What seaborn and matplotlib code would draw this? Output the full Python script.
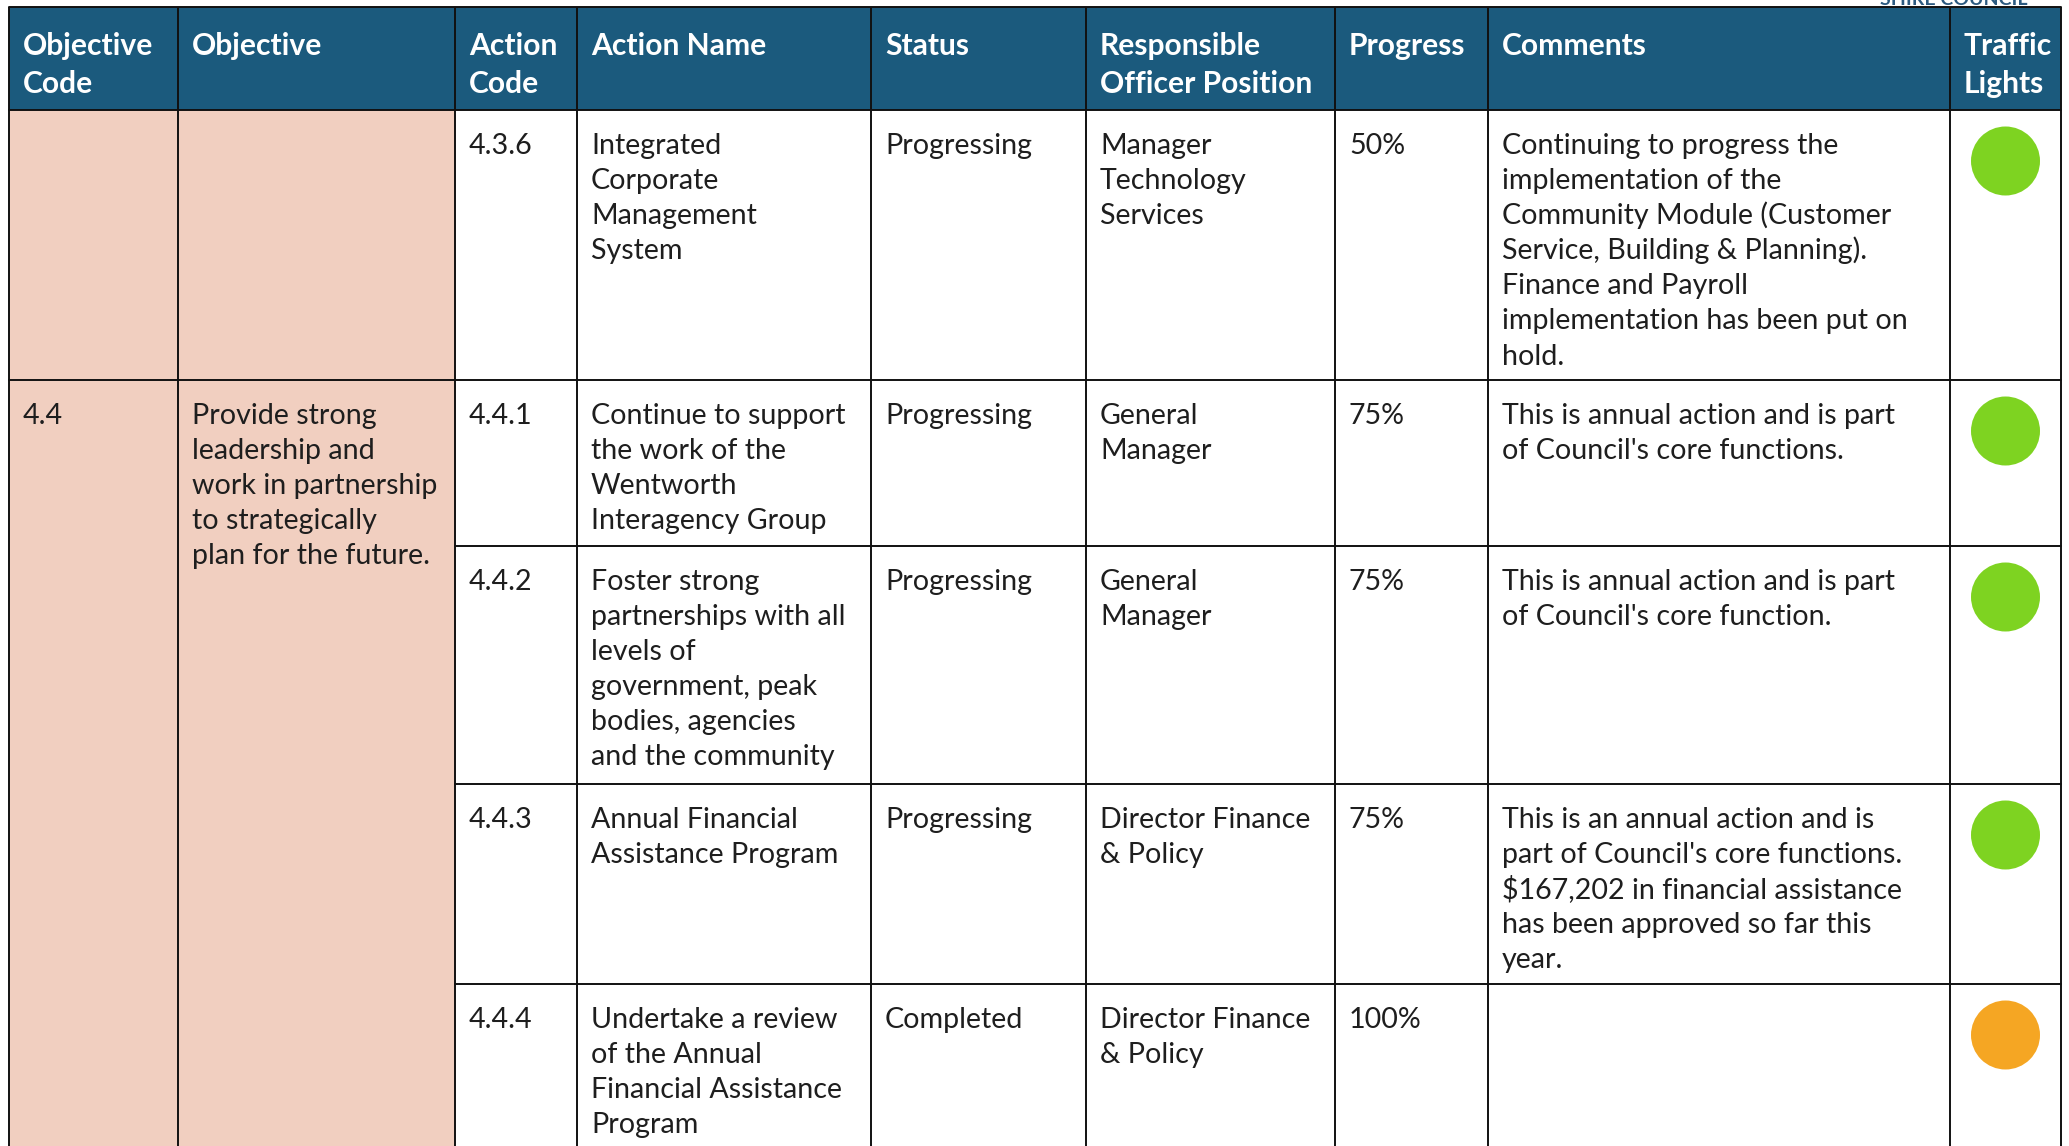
import matplotlib
matplotlib.use("Agg")
import matplotlib.pyplot as plt
import seaborn as sns
import pandas as pd
from matplotlib.patches import Rectangle
from matplotlib.font_manager import FontProperties
from matplotlib.textpath import TextPath

# ---------------- data ----------------
headers = ["Objective\nCode", "Objective", "Action\nCode", "Action Name", "Status",
           "Responsible\nOfficer Position", "Progress", "Comments", "Traffic\nLights"]

objective_codes = ["", "4.4"]
objectives = ["", "Provide strong\nleadership and\nwork in partnership\nto strategically\nplan for the future."]
objective_group = [0, 1, 1, 1, 1]

action_codes = ["4.3.6", "4.4.1", "4.4.2", "4.4.3", "4.4.4"]
action_names = [
    "Integrated\nCorporate\nManagement\nSystem",
    "Continue to support\nthe work of the\nWentworth\nInteragency Group",
    "Foster strong\npartnerships with all\nlevels of\ngovernment, peak\nbodies, agencies\nand the community",
    "Annual Financial\nAssistance Program",
    "Undertake a review\nof the Annual\nFinancial Assistance\nProgram",
]
statuses = ["Progressing", "Progressing", "Progressing", "Progressing", "Completed"]
officers = ["Manager\nTechnology\nServices", "General\nManager", "General\nManager",
            "Director Finance\n& Policy", "Director Finance\n& Policy"]
progress = ["50%", "75%", "75%", "75%", "100%"]
comments = [
    "Continuing to progress the\nimplementation of the\nCommunity Module (Customer\nService, Building & Planning).\nFinance and Payroll\nimplementation has been put on\nhold.",
    "This is annual action and is part\nof Council's core functions.",
    "This is annual action and is part\nof Council's core function.",
    "This is an annual action and is\npart of Council's core functions.\n\\$167,202 in financial assistance\nhas been approved so far this\nyear.",
    "",
]
lights = ["Green", "Green", "Green", "Green", "Amber"]
light_colors = {"Green": "#7ed321", "Amber": "#f5a623"}

# ---------------- layout ----------------
W, H = 2069, 1146
col_x = [9, 178, 455, 577, 871, 1086, 1335, 1488, 1950, 2061]
top, head_bot = 7, 110
row_y = [110, 380, 546, 784, 984, 1300]
pad = 14
HEAD_BLUE = "#1b5a7d"
PEACH = "#f1cfc0"
LINE = "#111111"
TXT = "#1e1e1e"

sns.set_theme(style="white")
plt.rcParams['font.family'] = ['Lato', 'DejaVu Sans']

body_fp = FontProperties(family=['Lato'], weight='normal')
head_fp = FontProperties(family=['Lato'], weight='bold')

def px_per_em(text, fp, target):
    w = TextPath((0, 0), text, size=1, prop=fp).get_extents().width
    return target / w

body_px = px_per_em("work in partnership", body_fp, 243)
head_px = px_per_em("Officer Position", head_fp, 209)
body_pt = body_px * 72 / 100
head_pt = head_px * 72 / 100

fig = plt.figure(figsize=(W / 100, H / 100), dpi=100)
ax = fig.add_axes([0, 0, 1, 1])
ax.set_xlim(0, W)
ax.set_ylim(H, 0)
ax.axis('off')

# backgrounds
ax.add_patch(Rectangle((col_x[0], top), col_x[-1] - col_x[0], head_bot - top,
                       facecolor=HEAD_BLUE, edgecolor='none', zorder=1))
ax.add_patch(Rectangle((col_x[0], head_bot), col_x[2] - col_x[0], H - head_bot + 10,
                       facecolor=PEACH, edgecolor='none', zorder=1))

# grid lines
lw = 1.4
for x in col_x:
    ax.plot([x, x], [top, H + 5], color=LINE, lw=lw, zorder=3, solid_capstyle='butt')
for y in [top, head_bot]:
    ax.plot([col_x[0], col_x[-1]], [y, y], color=LINE, lw=lw, zorder=3)
for i in range(1, len(action_codes)):
    y = row_y[i]
    x0 = col_x[0] if objective_group[i] != objective_group[i - 1] else col_x[2]
    ax.plot([x0, col_x[-1]], [y, y], color=LINE, lw=lw, zorder=3)

def draw_lines(x, y0, text, fp, size, color, spacing):
    for k, line in enumerate(text.split("\n")):
        if line:
            ax.text(x, y0 + k * spacing, line, fontproperties=fp, fontsize=size,
                    color=color, va='baseline', ha='left', zorder=4)

# header
for c, h in enumerate(headers):
    draw_lines(col_x[c] + pad, top + 48, h, head_fp, head_pt, "white", 38)

# body
BL, SP = 44, 35.1
seen = set()
for i in range(len(action_codes)):
    yt = row_y[i]
    g = objective_group[i]
    if g not in seen:
        seen.add(g)
        draw_lines(col_x[0] + pad, yt + BL, objective_codes[g], body_fp, body_pt, TXT, SP)
        draw_lines(col_x[1] + pad, yt + BL, objectives[g], body_fp, body_pt, TXT, SP)
    vals = [action_codes[i], action_names[i], statuses[i], officers[i], progress[i], comments[i]]
    for c, v in enumerate(vals):
        draw_lines(col_x[c + 2] + pad, yt + BL, v, body_fp, body_pt, TXT, SP)

# traffic lights
df = pd.DataFrame({
    "x": [(col_x[8] + col_x[9]) / 2] * len(lights),
    "y": [row_y[i] + 51 for i in range(len(lights))],
    "light": lights,
})
diam_pt = 69 * 72 / 100
sns.scatterplot(data=df, x="x", y="y", hue="light", palette=light_colors,
                s=diam_pt ** 2, linewidth=0, legend=False, ax=ax, zorder=5)
ax.set_xlim(0, W)
ax.set_ylim(H, 0)
ax.axis('off')

# cut-off logo text above the table (partly outside the page, as in the source)
ax.text((1883 + 2025) / 2, 5, "SHIRE COUNCIL", fontproperties=head_fp, fontsize=14,
        color="#2c5a80", ha='center', va='baseline', zorder=0)

fig.savefig("out.png", dpi=100, facecolor="white")
